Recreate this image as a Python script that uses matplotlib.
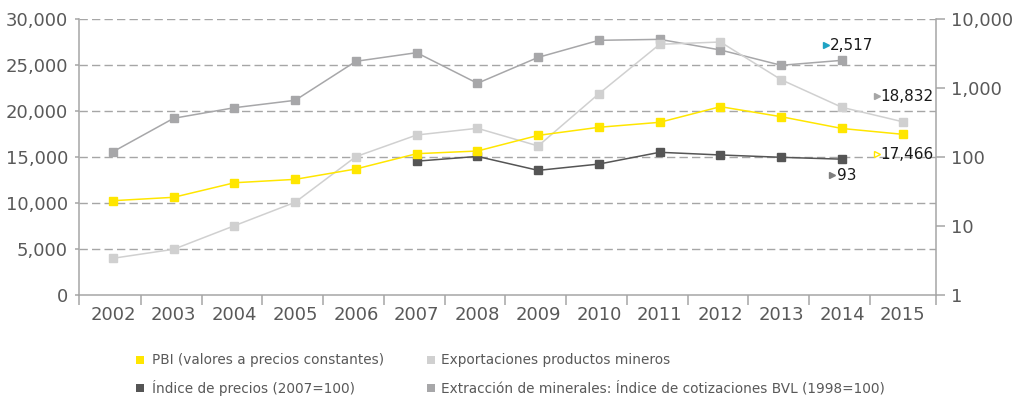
import numpy as np
import matplotlib
matplotlib.use("Agg")
import matplotlib.pyplot as plt
from matplotlib.ticker import FixedLocator, FuncFormatter, NullLocator
from matplotlib.transforms import offset_copy, blended_transform_factory
from matplotlib.lines import Line2D
from matplotlib.patches import Rectangle

# ---- data ----
years = [str(y) for y in range(2002, 2016)]
pbi = [10250, 10620, 12200, 12570, 13700, 15360, 15650, 17350, 18230, 18770,
       20470, 19380, 18100, 17466]
exportaciones = [3990, 4970, 7530, 10080, 15040, 17390, 18120, 16200, 21880,
                 27250, 27500, 23400, 20400, 18832]
indice_precios = [np.nan] * 5 + [87, 102, 64, 79, 117, 107, 99, 93, np.nan]
indice_bvl = [119, 364, 518, 663, 2437, 3250, 1170, 2780, 4910, 5070, 3556,
              2133, 2517, np.nan]

left_ticks = [0, 5000, 10000, 15000, 20000, 25000, 30000]
right_ticks = [1, 10, 100, 1000, 10000]

labels = ["PBI (valores a precios constantes)",
          "Exportaciones productos mineros",
          "Índice de precios (2007=100)",
          "Extracción de minerales: Índice de cotizaciones BVL (1998=100)"]

YELLOW = "#FFE600"
LIGHT = "#D0D0D0"
DARK = "#555555"
MID = "#A7A7A9"
AXIS = "#A6A6A6"
TXT = "#595959"

W, H = 1023, 403
fig = plt.figure(figsize=(W / 100, H / 100), dpi=100)
plt.rcParams['font.family'] = ['DejaVu Sans']

ax_l, ax_r, ax_t, ax_b = 79, 935.5, 19, 295
pos = [ax_l / W, 1 - ax_b / H, (ax_r - ax_l) / W, (ax_b - ax_t) / H]

# log (right) axes underneath, linear (left) axes on top
ax2 = fig.add_axes(pos)
ax = fig.add_axes(pos, sharex=ax2)
ax.patch.set_visible(False)
ax.set_zorder(ax2.get_zorder() + 1)

x = np.arange(len(years))
xmin, xmax = -0.558, 13.54

# right (log) axis
ax2.set_yscale('log')
ax2.set_ylim(1, 10000)
ax2.set_xlim(xmin, xmax)
ax2.yaxis.tick_right()
ax2.yaxis.set_label_position('right')
ax2.yaxis.set_major_locator(FixedLocator(right_ticks))
ax2.yaxis.set_minor_locator(NullLocator())
ax2.yaxis.set_major_formatter(FuncFormatter(lambda v, p: f"{v:,.0f}"))
ax2.tick_params(axis='y', which='major', direction='out', length=6.5, width=1.1,
                color=AXIS, labelsize=13, labelcolor=TXT, pad=5)
for s in ['top', 'left', 'bottom']:
    ax2.spines[s].set_visible(False)
ax2.spines['right'].set_color(AXIS)
ax2.spines['right'].set_linewidth(1.1)
ax2.tick_params(axis='x', which='both', bottom=False, labelbottom=False)

# dashed gridlines at left-axis ticks, drawn below every series
gtrans = blended_transform_factory(ax2.transAxes, ax.transData)
for v in left_ticks[1:]:
    ax2.add_line(Line2D([0, 1], [v, v], transform=gtrans, color=AXIS,
                        lw=1.0, ls=(0, (6, 3)), zorder=0.5))

ax2.plot(x, indice_bvl, color=MID, lw=1.1, marker='s', ms=6.2, zorder=2)
ax2.plot(x, indice_precios, color=DARK, lw=1.1, marker='s', ms=6.2, zorder=2)

# left axis
ax.set_ylim(0, 30000)
ax.set_xlim(xmin, xmax)
ax.yaxis.set_major_locator(FixedLocator(left_ticks))
ax.yaxis.set_major_formatter(FuncFormatter(lambda v, p: f"{v:,.0f}"))
ax.tick_params(axis='y', direction='out', length=3, width=1.1, color=AXIS,
               labelsize=13, labelcolor=TXT, pad=5)
ax.plot(x, exportaciones, color=LIGHT, lw=1.1, marker='s', ms=6.2, zorder=3)
ax.plot(x, pbi, color=YELLOW, lw=1.1, marker='s', ms=6.2, zorder=3)

for s in ['top', 'right']:
    ax.spines[s].set_visible(False)
for s in ['left', 'bottom']:
    ax.spines[s].set_color(AXIS)
    ax.spines[s].set_linewidth(1.1)

ax.xaxis.set_major_locator(FixedLocator(x))
ax.set_xticklabels(years)
ax.xaxis.set_minor_locator(FixedLocator([xmin] + [k - 0.54 for k in range(1, 14)] + [xmax]))
ax.tick_params(axis='x', which='major', length=0, labelsize=13, labelcolor=TXT, pad=8)
ax.tick_params(axis='x', which='minor', direction='out', length=7.5, width=1.1, color=AXIS)

# value callouts: a small triangle followed by the value
def callout(axis, xi, yv, text, tri_dx, tri_dy, txt_dx, txt_dy, face, edge):
    tt = offset_copy(axis.transData, fig=fig, x=tri_dx, y=tri_dy, units='dots')
    axis.plot([xi], [yv], marker='>', ms=5, mfc=face, mec=edge, mew=1.0,
              transform=tt, zorder=5, clip_on=False)
    tx = offset_copy(axis.transData, fig=fig, x=txt_dx, y=txt_dy, units='dots')
    axis.text(xi, yv, text, transform=tx, ha='left', va='center',
              fontsize=11, color='#1a1a1a', zorder=5)

callout(ax2, 12, indice_bvl[12], f"{indice_bvl[12]:,}", -15.5, 15.5, -12, 15,
        "#1FA3C4", "#1FA3C4")
callout(ax, 13, exportaciones[13], f"{exportaciones[13]:,}", -26, 25.5, -22, 25,
        "#A6A6A6", "#A6A6A6")
callout(ax, 13, pbi[13], f"{pbi[13]:,}", -26, -19.5, -22, -20,
        "white", YELLOW)
callout(ax2, 12, indice_precios[12], f"{indice_precios[12]:,}", -10, -15.8, -5, -16,
        "#7F7F7F", "#7F7F7F")

# legend, two columns
entries = [(labels[0], YELLOW, 140, 360, 152),
           (labels[1], LIGHT, 431, 360, 441),
           (labels[2], DARK, 140, 388, 152),
           (labels[3], MID, 431, 388, 441)]
for lab, col, mx, my, tx in entries:
    fig.add_artist(Rectangle(((mx - 4) / W, 1 - (my + 4) / H), 8 / W, 8 / H,
                             transform=fig.transFigure, facecolor=col,
                             edgecolor='none'))
    fig.text(tx / W, 1 - my / H, lab, ha='left', va='center', fontsize=9.8,
             color=TXT)

fig.savefig("out.png", dpi=100)
